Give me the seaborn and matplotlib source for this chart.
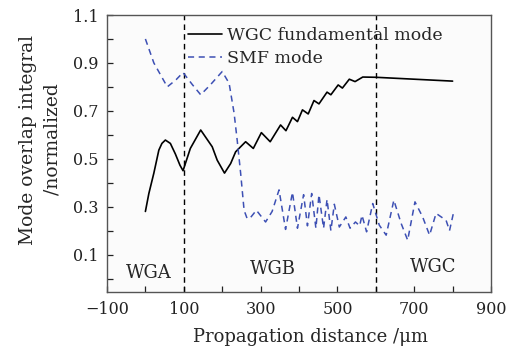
import numpy as np
import pandas as pd
import seaborn as sns
import matplotlib
matplotlib.use("Agg")
import matplotlib.pyplot as plt

# ---- data ----
wgc_x = [0, 9, 22, 35, 43, 52, 65, 78, 90, 98, 117, 144, 174, 187, 206, 222, 235,
         261, 281, 302, 325, 352, 366, 383, 396, 409, 424, 439, 452, 473, 483, 502,
         513, 531, 546, 566, 600, 700, 800]
wgc_y = [0.28, 0.355, 0.44, 0.536, 0.564, 0.578, 0.564, 0.52, 0.473, 0.45, 0.543,
         0.62, 0.55, 0.494, 0.44, 0.48, 0.529, 0.571, 0.543, 0.609, 0.571, 0.641,
         0.617, 0.673, 0.655, 0.704, 0.687, 0.743, 0.729, 0.778, 0.767, 0.808, 0.795,
         0.832, 0.822, 0.841, 0.840, 0.832, 0.824]

smf_x = [0, 22, 57, 80, 98, 122, 144, 170, 200, 218, 231, 239, 248, 257, 265, 274,
         289, 313, 330, 348, 365, 383, 396, 412, 422, 433, 444, 452, 464, 473, 483,
         492, 505, 522, 533, 547, 558, 564, 576, 592, 609, 627, 647, 666, 683, 702,
         722, 740, 757, 783, 792, 802]
smf_y = [1.0, 0.90, 0.80, 0.83, 0.86, 0.81, 0.767, 0.81, 0.864, 0.815, 0.69, 0.578,
         0.44, 0.285, 0.25, 0.255, 0.285, 0.236, 0.28, 0.37, 0.205, 0.36, 0.21, 0.35,
         0.22, 0.355, 0.21, 0.35, 0.21, 0.33, 0.20, 0.31, 0.215, 0.257, 0.21, 0.236,
         0.22, 0.264, 0.195, 0.313, 0.223, 0.181, 0.327, 0.23, 0.16, 0.32, 0.257,
         0.181, 0.272, 0.243, 0.20, 0.272]

region_labels = ["WGA", "WGB", "WGC"]
region_x = [8, 331, 749]
region_y = [0.025, 0.04, 0.047]
boundaries = [100, 600]

x_ticks = [-100, 100, 300, 500, 700, 900]
x_minor = [0, 200, 400, 600, 800]
y_ticks = [0.1, 0.3, 0.5, 0.7, 0.9, 1.1]
y_minor = [0.0, 0.2, 0.4, 0.6, 0.8, 1.0]

sns.set_style("ticks")
plt.rcParams['font.family'] = ['DejaVu Serif']
plt.rcParams['mathtext.fontset'] = 'dejavuserif'

fig = plt.figure(figsize=(5.2, 3.46), dpi=100)
ax = fig.add_axes([107/520, 1 - 291.7/346, (491-107)/520, (291.7-15)/346])
ax.set_facecolor("#fbfbfb")

df1 = pd.DataFrame({"x": wgc_x, "y": wgc_y})
df2 = pd.DataFrame({"x": smf_x, "y": smf_y})
sns.lineplot(data=df1, x="x", y="y", ax=ax, color="black", lw=1.2,
             label="WGC fundamental mode")
sns.lineplot(data=df2, x="x", y="y", ax=ax, color="#3d50b4", lw=1.1,
             label="SMF mode")
ax.lines[-1].set_linestyle((0, (4, 3)))

for b in boundaries:
    ax.axvline(b, color="black", lw=1.0, ls=(0, (4, 3)), zorder=1)

for t, xx, yy in zip(region_labels, region_x, region_y):
    ax.text(xx, yy, t, fontsize=13, ha="center", va="center")

ax.set_xlim(-100, 900)
ax.set_ylim(-0.055, 1.1)
ax.set_xticks(x_ticks)
ax.set_xticks(x_minor, minor=True)
ax.set_yticks(y_ticks)
ax.set_yticks(y_minor, minor=True)
ax.set_xticklabels(["\u2212100", "100", "300", "500", "700", "900"])
ax.set_yticklabels([f"{v:.1f}" for v in y_ticks])
ax.tick_params(which="both", direction="in", length=4, width=0.9,
               labelsize=11.5, top=False, right=False, colors="#222222")
ax.tick_params(axis="x", pad=7)
ax.tick_params(axis="y", pad=6)
for s in ax.spines.values():
    s.set_color("#555555")
    s.set_linewidth(1.0)

ax.set_xlabel("Propagation distance /\u03bcm", fontsize=13, labelpad=5)
ax.xaxis.set_label_coords(0.53, -0.13)
ax.set_ylabel("Mode overlap integral\n/normalized", fontsize=13.5,
              linespacing=1.45)
ax.yaxis.set_label_coords(-0.118, 0.55)

leg = ax.legend(loc="upper left", bbox_to_anchor=(0.21, 0.955), frameon=False,
                fontsize=12.5, handlelength=2.0, handletextpad=0.25,
                labelspacing=0.3, borderaxespad=0, borderpad=0)

fig.savefig("out.png", dpi=100, facecolor="white")
